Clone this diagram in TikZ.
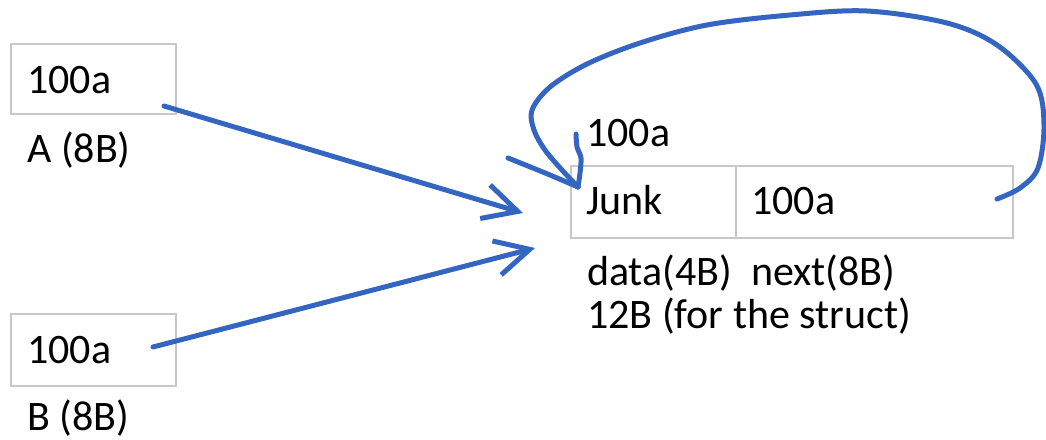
\documentclass[tikz,border=0pt]{standalone}
\usepackage{fontspec}
\setmainfont{Carlito}
\usetikzlibrary{arrows.meta}
\definecolor{pencol}{RGB}{52,101,192}
\definecolor{boxgray}{RGB}{200,200,200}
\begin{document}
\begin{tikzpicture}[x=1pt,y=-1pt,
  cell/.style={draw=boxgray, line width=2pt, inner sep=0pt, anchor=north west},
  lbl/.style={anchor=base west, inner sep=0pt, font=\fontsize{42}{50}\selectfont},
  pen/.style={draw=pencol, line width=5pt, line cap=round, line join=round},
  ptr/.style={pen, -{Straight Barb[length=34pt,width=35pt]}}]
\useasboundingbox (0,0) rectangle (1046,439);
% boxes
\node[cell, minimum width=165pt, minimum height=70pt] (abox) at (10,43) {};
\node[cell, minimum width=165pt, minimum height=72pt] (bbox) at (10,313) {};
\node[cell, minimum width=165pt, minimum height=72pt] (datacell) at (570,165) {};
\node[cell, minimum width=277pt, minimum height=72pt] (nextcell) at (735,165) {};
% texts
\node[lbl] (aval) at (27,93) {100a};
\node[lbl] (alabel) at (27,162) {A (8B)};
\node[lbl] (bval) at (27,363) {100a};
\node[lbl] (blabel) at (27,430) {B (8B)};
\node[lbl] (addr) at (586,146) {100a};
\node[lbl] (junk) at (586,214) {Junk};
\node[lbl] (nextval) at (751,214) {100a};
\node[lbl] (sizes) at (587,285) {data(4B)\ \ next(8B)};
\node[lbl] (total) at (587,328) {12B (for the struct)};
% pointer arrows
\coordinate (a0) at (164,106);
\coordinate (a1) at (523,213);
\coordinate (b0) at (153,347);
\coordinate (b1) at (535,248);
\draw[ptr] (a0) -- (a1);
\draw[ptr] (b0) -- (b1);
% self loop
\coordinate (l0) at (997,199);
\coordinate (ltip) at (578,187);
\coordinate (barbL) at (508,158);
\coordinate (barbR) at (576,134);
\draw[pen] plot[smooth, tension=0.55] coordinates {(l0) (1020,188) (1038,168) (1044,125) (1036,84) (997,45) (947,23) (867,11) (790,15) (707,25) (640,43) (587,64) (550,87) (532,110) (534,130) (545,150) (562,170) (ltip)};
\draw[pen] plot[smooth, tension=0.5] coordinates {(barbL) (523,164) (550,175) (ltip)};
\draw[pen] plot[smooth, tension=0.5] coordinates {(barbR) (577,147) (581,158) (580,173) (ltip)};
\end{tikzpicture}
\end{document}
